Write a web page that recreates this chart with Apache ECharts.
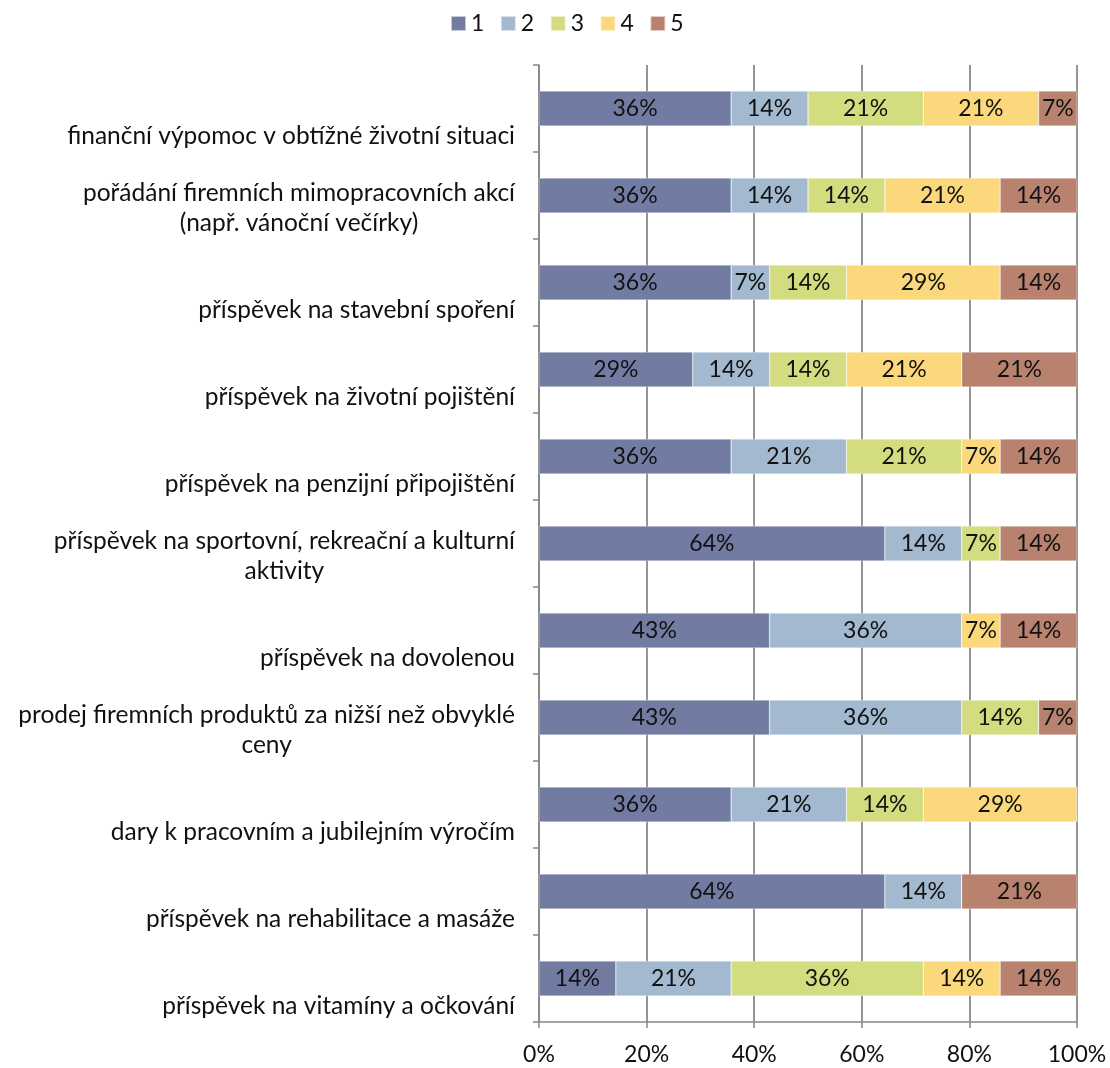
<!DOCTYPE html>
<html>
<head>
<meta charset="utf-8">
<script src="https://cdn.jsdelivr.net/npm/echarts@6/dist/echarts.min.js"></script>
<style>
html,body{margin:0;padding:0;background:#fff;}
#chart{width:1110px;height:1068px;}
</style>
</head>
<body>
<div id="chart"></div>
<script>
// Categories (top to bottom as in the chart)
const categories = [
  'finanční výpomoc v obtížné životní situaci',
  'pořádání firemních mimopracovních akcí\n(např. vánoční večírky)',
  'příspěvek na stavební spoření',
  'příspěvek na životní pojištění',
  'příspěvek na penzijní připojištění',
  'příspěvek na sportovní, rekreační a kulturní\naktivity',
  'příspěvek na dovolenou',
  'prodej firemních produktů za nižší než obvyklé\nceny',
  'dary k pracovním a jubilejním výročím',
  'příspěvek na rehabilitace a masáže',
  'příspěvek na vitamíny a očkování'
];
// Series names (rating 1..5)
const seriesNames = ['1', '2', '3', '4', '5'];
// Number of respondents per rating (14 respondents per item)
const rating1 = [5, 5, 5, 4, 5, 9, 6, 6, 5, 9, 2];
const rating2 = [2, 2, 1, 2, 3, 2, 5, 5, 3, 2, 3];
const rating3 = [3, 2, 2, 2, 3, 1, 0, 2, 2, 0, 5];
const rating4 = [3, 3, 4, 3, 1, 0, 1, 0, 4, 0, 2];
const rating5 = [1, 2, 2, 3, 2, 2, 2, 1, 0, 3, 2];
// Value axis tick labels
const xTicks = ['0%', '20%', '40%', '60%', '80%', '100%'];

const colors = ['#727CA3', '#A3B9CF', '#D4DC80', '#FAD87B', '#B8826F'];
const FONT = 'Lato, "Open Sans", sans-serif';

const allSeries = [rating1, rating2, rating3, rating4, rating5];
const totals = categories.map((_, i) => allSeries.reduce((s, arr) => s + arr[i], 0));

const chart = echarts.init(document.getElementById('chart'));
chart.setOption({
  animation: false,
  color: colors,
  textStyle: { fontFamily: FONT },
  legend: {
    top: 12,
    left: 450,
    padding: 0,
    icon: 'rect',
    itemWidth: 15,
    itemHeight: 15,
    itemGap: 15.5,
    textStyle: { fontSize: 23, color: '#111', fontFamily: FONT },
    data: seriesNames
  },
  grid: { left: 539, right: 33, top: 65, bottom: 46, containLabel: false },
  xAxis: {
    type: 'value',
    min: 0,
    max: 100,
    interval: 20,
    axisLine: { show: true, lineStyle: { color: '#878787', width: 1.5 } },
    axisTick: { show: true, length: 6, lineStyle: { color: '#878787', width: 1.5 } },
    splitLine: { show: true, lineStyle: { color: '#8A8A8A', width: 1.8 } },
    axisLabel: {
      color: '#111', fontSize: 23, fontFamily: FONT, margin: 21,
      formatter: (v) => xTicks[Math.round(v / 20)]
    }
  },
  yAxis: {
    type: 'category',
    inverse: true,
    data: categories,
    axisLine: { show: true, lineStyle: { color: '#878787', width: 1.5 } },
    axisTick: { show: true, length: 6, lineStyle: { color: '#878787', width: 1.5 } },
    axisLabel: {
      interval: 0,
      margin: 24,
      align: 'right',
      color: '#111',
      formatter: function (value) {
        const lines = value.split('\n');
        const sp = lines.length > 1 ? 'sp2' : 'sp1';
        return '{' + sp + '| }\n' + lines.map(l => '{t|' + l + '}').join('\n');
      },
      rich: {
        sp1: { height: 56, lineHeight: 56, fontSize: 2 },
        sp2: { height: 26, lineHeight: 26, fontSize: 2 },
        t: { fontSize: 24.5, lineHeight: 30, align: 'center', color: '#111', fontFamily: FONT }
      }
    }
  },
  series: allSeries.map((arr, k) => ({
    name: seriesNames[k],
    type: 'bar',
    stack: 'total',
    barWidth: 35,
    itemStyle: { borderColor: 'rgba(255,255,255,0.6)', borderWidth: 0.5 },
    label: {
      show: true,
      position: 'inside',
      color: '#111',
      fontSize: 23,
      fontFamily: FONT,
      formatter: (p) => arr[p.dataIndex] > 0 ? Math.round(arr[p.dataIndex] / totals[p.dataIndex] * 100) + '%' : ''
    },
    data: arr.map((v, i) => v / totals[i] * 100)
  }))
});
</script>
</body>
</html>
